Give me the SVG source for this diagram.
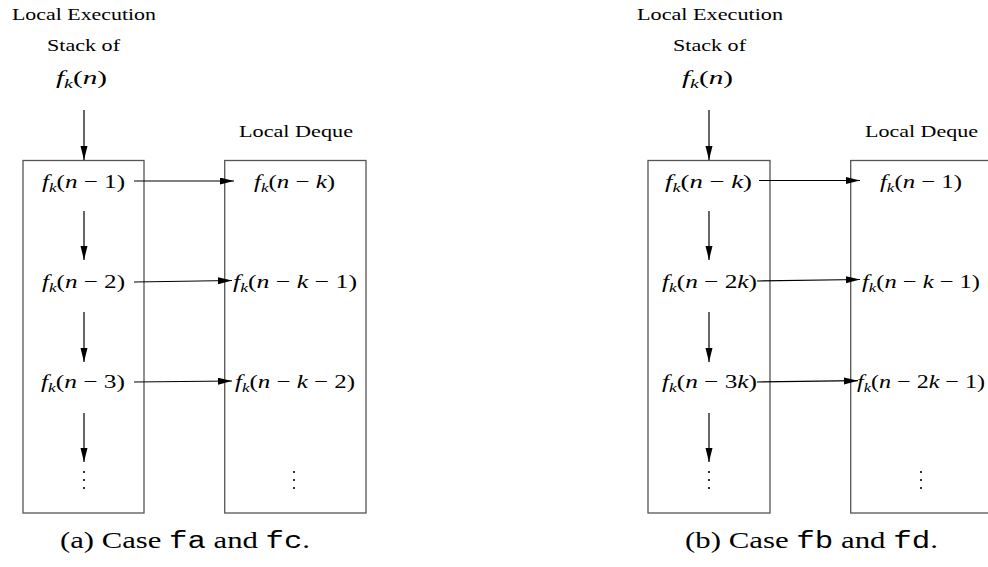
<svg xmlns="http://www.w3.org/2000/svg" width="988" height="567" viewBox="0 0 988 567">
<style>
.t{font-family:"Liberation Serif",serif;font-size:17px;fill:#000}
.m{font-family:"Liberation Serif",serif;font-size:19px;fill:#000}
.cap{font-family:"Liberation Serif",serif;font-size:23px;fill:#000}
.tt{font-family:"Liberation Mono",monospace}
.i{font-style:italic}
.s{font-size:13px}
.box{fill:none;stroke:#555;stroke-width:1.3}
.ar{fill:none;stroke:#000;stroke-width:1.2;marker-end:url(#ah)}
.dot{fill:#000}
</style>
<defs>
<marker id="ah" markerUnits="userSpaceOnUse" markerWidth="15" markerHeight="8" refX="14" refY="3.5" orient="auto">
<path d="M0,0 L14,3.5 L0,7 z" fill="#000"/>
</marker>
</defs>

<!-- ===== Figure (a) ===== -->
<g id="a-stack-title">
<text class="t" x="12" y="20" textLength="144" lengthAdjust="spacingAndGlyphs">Local Execution</text>
<text class="t" x="47" y="51" textLength="73" lengthAdjust="spacingAndGlyphs">Stack of</text>
<text class="m" x="56" y="84" textLength="51" lengthAdjust="spacingAndGlyphs"><tspan class="i">f</tspan><tspan class="i s" dy="4">k</tspan><tspan dy="-4">(</tspan><tspan class="i">n</tspan>)</text>
</g>
<g id="a-deque-title">
<text class="t" x="239" y="137" textLength="114" lengthAdjust="spacingAndGlyphs">Local Deque</text>
</g>
<g id="a-stack">
<rect class="box" x="23" y="160.5" width="121" height="352.5"/>
<text class="m" x="42" y="187.5" textLength="83" lengthAdjust="spacingAndGlyphs"><tspan class="i">f</tspan><tspan class="i s" dy="4">k</tspan><tspan dy="-4">(</tspan><tspan class="i">n</tspan> − 1)</text>
<text class="m" x="42" y="287.5" textLength="83" lengthAdjust="spacingAndGlyphs"><tspan class="i">f</tspan><tspan class="i s" dy="4">k</tspan><tspan dy="-4">(</tspan><tspan class="i">n</tspan> − 2)</text>
<text class="m" x="41" y="387.5" textLength="84" lengthAdjust="spacingAndGlyphs"><tspan class="i">f</tspan><tspan class="i s" dy="4">k</tspan><tspan dy="-4">(</tspan><tspan class="i">n</tspan> − 3)</text>
<circle class="dot" cx="84" cy="472" r="1.1"/><circle class="dot" cx="84" cy="480" r="1.1"/><circle class="dot" cx="84" cy="488" r="1.1"/>
</g>
<g id="a-deque">
<rect class="box" x="224.7" y="160.5" width="141.3" height="352.5"/>
<text class="m" x="254" y="187.5" textLength="81" lengthAdjust="spacingAndGlyphs"><tspan class="i">f</tspan><tspan class="i s" dy="4">k</tspan><tspan dy="-4">(</tspan><tspan class="i">n</tspan> − <tspan class="i">k</tspan>)</text>
<text class="m" x="233" y="287.5" textLength="124" lengthAdjust="spacingAndGlyphs"><tspan class="i">f</tspan><tspan class="i s" dy="4">k</tspan><tspan dy="-4">(</tspan><tspan class="i">n</tspan> − <tspan class="i">k</tspan> − 1)</text>
<text class="m" x="235" y="387.5" textLength="120" lengthAdjust="spacingAndGlyphs"><tspan class="i">f</tspan><tspan class="i s" dy="4">k</tspan><tspan dy="-4">(</tspan><tspan class="i">n</tspan> − <tspan class="i">k</tspan> − 2)</text>
<circle class="dot" cx="294" cy="472" r="1.1"/><circle class="dot" cx="294" cy="480" r="1.1"/><circle class="dot" cx="294" cy="488" r="1.1"/>
</g>
<g id="a-caption">
<text class="cap" x="60" y="548" textLength="250" lengthAdjust="spacingAndGlyphs">(a) Case <tspan class="tt">fa</tspan> and <tspan class="tt">fc</tspan>.</text>
</g>

<!-- ===== Figure (b) ===== -->
<g id="b-stack-title">
<text class="t" x="637" y="20" textLength="146" lengthAdjust="spacingAndGlyphs">Local Execution</text>
<text class="t" x="673" y="51" textLength="73" lengthAdjust="spacingAndGlyphs">Stack of</text>
<text class="m" x="682" y="84" textLength="51" lengthAdjust="spacingAndGlyphs"><tspan class="i">f</tspan><tspan class="i s" dy="4">k</tspan><tspan dy="-4">(</tspan><tspan class="i">n</tspan>)</text>
</g>
<g id="b-deque-title">
<text class="t" x="865" y="137" textLength="113" lengthAdjust="spacingAndGlyphs">Local Deque</text>
</g>
<g id="b-stack">
<rect class="box" x="648" y="160.5" width="122" height="352.5"/>
<text class="m" x="665" y="187.5" textLength="87" lengthAdjust="spacingAndGlyphs"><tspan class="i">f</tspan><tspan class="i s" dy="4">k</tspan><tspan dy="-4">(</tspan><tspan class="i">n</tspan> − <tspan class="i">k</tspan>)</text>
<text class="m" x="662" y="287.5" textLength="95" lengthAdjust="spacingAndGlyphs"><tspan class="i">f</tspan><tspan class="i s" dy="4">k</tspan><tspan dy="-4">(</tspan><tspan class="i">n</tspan> − 2<tspan class="i">k</tspan>)</text>
<text class="m" x="662" y="387.5" textLength="95" lengthAdjust="spacingAndGlyphs"><tspan class="i">f</tspan><tspan class="i s" dy="4">k</tspan><tspan dy="-4">(</tspan><tspan class="i">n</tspan> − 3<tspan class="i">k</tspan>)</text>
<circle class="dot" cx="709" cy="472" r="1.1"/><circle class="dot" cx="709" cy="480" r="1.1"/><circle class="dot" cx="709" cy="488" r="1.1"/>
</g>
<g id="b-deque">
<rect class="box" x="850.7" y="160.5" width="142" height="352.5"/>
<text class="m" x="880" y="187.5" textLength="82" lengthAdjust="spacingAndGlyphs"><tspan class="i">f</tspan><tspan class="i s" dy="4">k</tspan><tspan dy="-4">(</tspan><tspan class="i">n</tspan> − 1)</text>
<text class="m" x="862" y="287.5" textLength="118" lengthAdjust="spacingAndGlyphs"><tspan class="i">f</tspan><tspan class="i s" dy="4">k</tspan><tspan dy="-4">(</tspan><tspan class="i">n</tspan> − <tspan class="i">k</tspan> − 1)</text>
<text class="m" x="857" y="387.5" textLength="128" lengthAdjust="spacingAndGlyphs"><tspan class="i">f</tspan><tspan class="i s" dy="4">k</tspan><tspan dy="-4">(</tspan><tspan class="i">n</tspan> − 2<tspan class="i">k</tspan> − 1)</text>
<circle class="dot" cx="921" cy="472" r="1.1"/><circle class="dot" cx="921" cy="480" r="1.1"/><circle class="dot" cx="921" cy="488" r="1.1"/>
</g>
<g id="b-caption">
<text class="cap" x="685" y="548" textLength="253" lengthAdjust="spacingAndGlyphs">(b) Case <tspan class="tt">fb</tspan> and <tspan class="tt">fd</tspan>.</text>
</g>

<!-- ===== Connectors ===== -->
<g id="connectors">
<line class="ar" x1="84" y1="110" x2="84" y2="160"/>
<line class="ar" x1="84" y1="211" x2="84" y2="260"/>
<line class="ar" x1="84" y1="312" x2="84" y2="362"/>
<line class="ar" x1="84" y1="413" x2="84" y2="462"/>
<line class="ar" x1="134" y1="181" x2="234" y2="181"/>
<line class="ar" x1="134" y1="282" x2="232" y2="280.5"/>
<line class="ar" x1="134" y1="382" x2="232" y2="381"/>

<line class="ar" x1="709" y1="110" x2="709" y2="160"/>
<line class="ar" x1="709" y1="211" x2="709" y2="260"/>
<line class="ar" x1="709" y1="312" x2="709" y2="362"/>
<line class="ar" x1="709" y1="413" x2="709" y2="462"/>
<line class="ar" x1="759" y1="180.5" x2="860" y2="180.5"/>
<line class="ar" x1="757" y1="281" x2="860" y2="279.5"/>
<line class="ar" x1="757" y1="382" x2="858" y2="380.7"/>
</g>
</svg>
